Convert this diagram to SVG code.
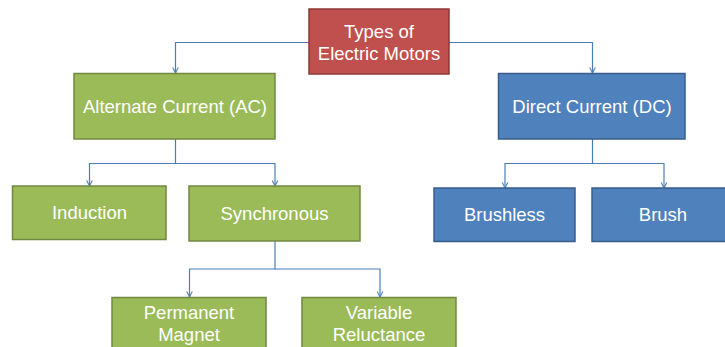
<svg xmlns="http://www.w3.org/2000/svg" width="725" height="347" viewBox="0 0 725 347">
<defs>
<style>
.red{fill:#C0504D;stroke:#8C3836;stroke-width:1.5}
.green{fill:#9BBB59;stroke:#71893F;stroke-width:1.5}
.blue{fill:#4F81BD;stroke:#385D8A;stroke-width:1.5}
text{font-family:"Liberation Sans",Arial,sans-serif;font-size:18.5px;fill:#FFFFFF;text-anchor:middle}
.conn{fill:none;stroke:#4A7EBB;stroke-width:1.2;marker-end:url(#arr)}
</style>
<marker id="arr" viewBox="0 0 10 10" refX="9" refY="5" markerWidth="7" markerHeight="7" markerUnits="userSpaceOnUse" orient="auto">
<path d="M1,1 L9,5 L1,9" fill="none" stroke="#4A7EBB" stroke-width="1.5"/>
</marker>
</defs>
<rect width="725" height="347" fill="#FFFFFF"/>
<g id="connectors">
<path class="conn" d="M309,42.5 H175.5 V73"/>
<path class="conn" d="M449,42.5 H592.5 V73"/>
<path class="conn" d="M175.5,139 V163.5 H89.5 V186"/>
<path class="conn" d="M175.5,163.5 H275 V186"/>
<path class="conn" d="M275,241 V269 H189.5 V297"/>
<path class="conn" d="M275,269 H380 V297"/>
<path class="conn" d="M592.5,139 V163.5 H505 V188"/>
<path class="conn" d="M592.5,163.5 H664 V188"/>
</g>
<g id="root">
<rect class="red" x="309" y="9" width="140" height="65"/>
<text x="379" y="38">Types of</text>
<text x="379" y="60">Electric Motors</text>
</g>
<g id="ac">
<rect class="green" x="74" y="73.5" width="201" height="65.5"/>
<text x="175" y="113">Alternate Current (AC)</text>
</g>
<g id="dc">
<rect class="blue" x="498.5" y="73.5" width="186.5" height="65.5"/>
<text x="592" y="113">Direct Current (DC)</text>
</g>
<g id="induction">
<rect class="green" x="12.5" y="186" width="153.5" height="53.5"/>
<text x="89.5" y="219">Induction</text>
</g>
<g id="synchronous">
<rect class="green" x="189" y="186" width="171" height="55"/>
<text x="274.5" y="220">Synchronous</text>
</g>
<g id="brushless">
<rect class="blue" x="434" y="188" width="141" height="53.5"/>
<text x="504.5" y="221">Brushless</text>
</g>
<g id="brush">
<rect class="blue" x="592" y="188" width="140" height="53.5"/>
<text x="663" y="221">Brush</text>
</g>
<g id="permanent-magnet">
<rect class="green" x="112" y="297.5" width="154" height="60"/>
<text x="189" y="319">Permanent</text>
<text x="189" y="341">Magnet</text>
</g>
<g id="variable-reluctance">
<rect class="green" x="302" y="297.5" width="154" height="60"/>
<text x="379" y="319">Variable</text>
<text x="379" y="341">Reluctance</text>
</g>
</svg>
